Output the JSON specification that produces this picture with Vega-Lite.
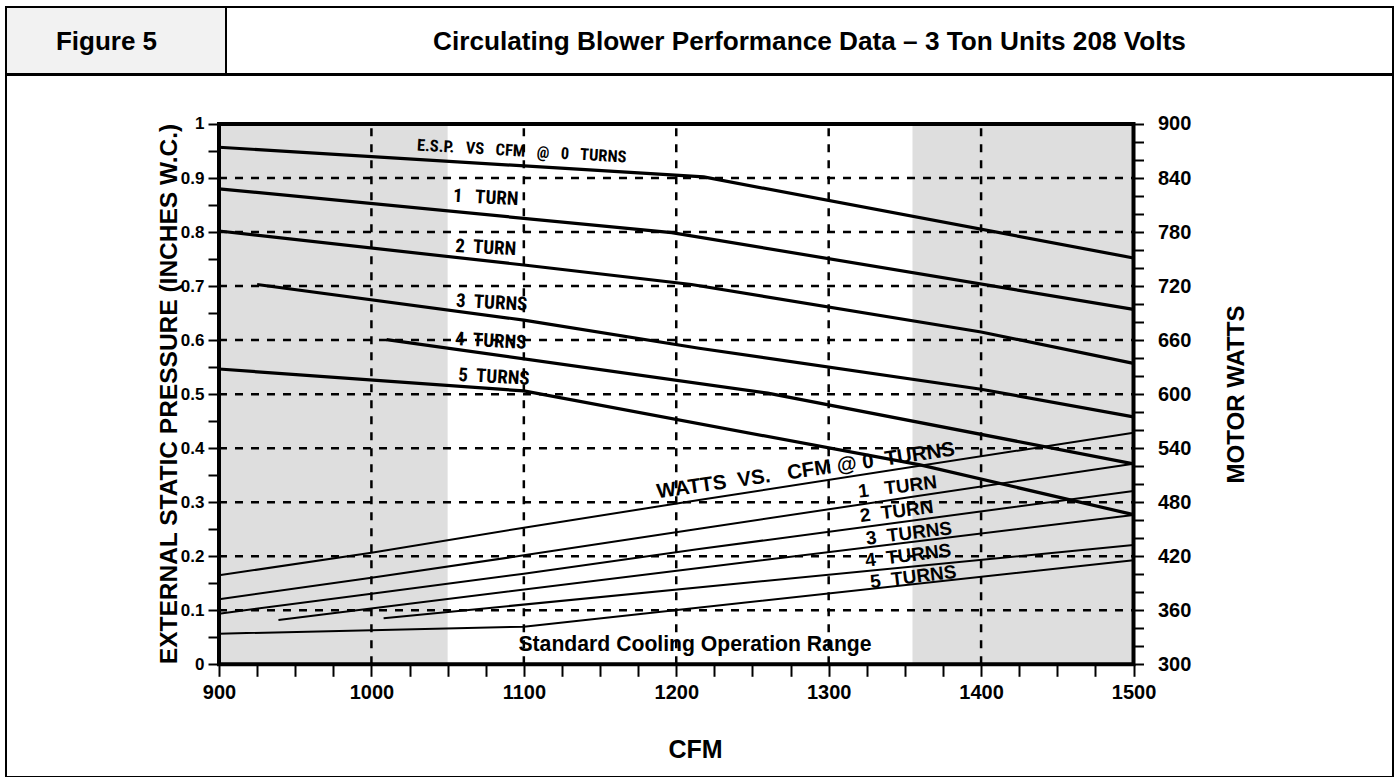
{
  "$schema": "https://vega.github.io/schema/vega-lite/v6.json",
  "padding": {"left": 5, "top": 6, "right": 0, "bottom": 0},
  "background": "white",
  "spacing": -2,
  "config": {
    "view": {"stroke": "black", "strokeWidth": 2},
    "font": "Liberation Sans"
  },
  "vconcat": [
    {
      "spacing": 0,
      "bounds": "flush",
      "hconcat": [
        {
          "width": 220,
          "height": 67,
          "view": {"fill": "#f2f2f2", "stroke": "black", "strokeWidth": 2},
          "data": {"values": [{"t": "Figure 5"}]},
          "mark": {"type": "text", "font": "Liberation Sans", "fontWeight": "bold", "fontSize": 26, "dx": -9.5, "dy": 1.5, "baseline": "middle", "align": "center", "color": "black"},
          "encoding": {"text": {"field": "t"}}
        },
        {
          "width": 1167,
          "height": 67,
          "view": {"stroke": "black", "strokeWidth": 2},
          "data": {"values": [{"t": "Circulating Blower Performance Data – 3 Ton Units 208 Volts"}]},
          "mark": {"type": "text", "font": "Liberation Sans", "fontWeight": "bold", "fontSize": 26.2, "dy": 1.5, "baseline": "middle", "align": "center", "color": "black"},
          "encoding": {"text": {"field": "t"}}
        }
      ]
    },
    {
      "width": 1387,
      "height": 702,
      "view": {"stroke": "black", "strokeWidth": 2},
      "resolve": {"scale": {"y": "independent"}, "axis": {"y": "independent", "x": "independent"}},
      "layer": [
        {
          "data": {"values": [{"a": 900, "b": 1050}, {"a": 1355, "b": 1500}]},
          "mark": {"type": "rect", "fill": "#dedede"},
          "encoding": {
            "x": {"field": "a", "type": "quantitative", "scale": {"domain": [760.25, 1670.25], "nice": false, "zero": false},
              "axis": {"orient": "bottom", "offset": -112.7, "domain": false, "grid": false, "zindex": 1,
                "values": [900,925,950,975,1000,1025,1050,1075,1100,1125,1150,1175,1200,1225,1250,1275,1300,1325,1350,1375,1400,1425,1450,1475,1500],
                "labelExpr": "datum.value % 100 == 0 ? datum.label : ''",
                "format": "d",
                "tickColor": "black", "tickWidth": 2, "tickSize": 12,
                "labelFont": "Liberation Sans", "labelFontWeight": "bold", "labelFontSize": 20, "labelColor": "black", "labelPadding": 6,
                "labelFlush": false, "labelOverlap": false, "labelBound": false,
                "title": "CFM", "titleFont": "Liberation Sans", "titleFontWeight": "bold", "titleFontSize": 25, "titleColor": "black",
                "titleX": 689, "titleY": 84.7, "titleAlign": "center", "titleBaseline": "middle", "titleAngle": 0}},
            "x2": {"field": "b"},
            "y": {"datum": 0, "type": "quantitative", "scale": {"domain": [-0.20859, 1.09069], "nice": false, "zero": false},
              "axis": {"orient": "left", "offset": -213, "domain": false, "grid": false, "zindex": 1,
                "values": [0,0.05,0.1,0.15,0.2,0.25,0.3,0.35,0.4,0.45,0.5,0.55,0.6,0.65,0.7,0.75,0.8,0.85,0.9,0.95,1],
                "labelExpr": "round(datum.value*100) % 10 == 0 ? format(datum.value, '~g') : ''",
                "tickColor": "black", "tickWidth": 2, "tickSize": 11,
                "labelFont": "Liberation Sans", "labelFontWeight": "bold", "labelFontSize": 17, "labelColor": "black", "labelPadding": 4,
                "labelFlush": false, "labelOverlap": false, "labelBound": false,
                "title": "EXTERNAL STATIC PRESSURE (INCHES W.C.)", "titleFont": "Liberation Sans", "titleFontWeight": "bold", "titleFontSize": 24.5, "titleColor": "black",
                "titleX": -50, "titleY": 318.5, "titleAngle": -90, "titleAlign": "center", "titleBaseline": "middle"}},
            "y2": {"datum": 1}
          }
        },
        {
          "data": {"values": [{"c": 1000}, {"c": 1100}, {"c": 1200}, {"c": 1300}, {"c": 1400}]},
          "mark": {"type": "rule", "color": "black", "strokeWidth": 2.5, "strokeDash": [8, 8]},
          "encoding": {
            "x": {"field": "c", "type": "quantitative", "scale": {"domain": [760.25, 1670.25], "nice": false, "zero": false}, "axis": null},
            "y": {"datum": 0, "type": "quantitative", "scale": {"domain": [-0.20859, 1.09069], "nice": false, "zero": false}, "axis": null},
            "y2": {"datum": 1}
          }
        },
        {
          "data": {"values": [{"e": 0.1}, {"e": 0.2}, {"e": 0.3}, {"e": 0.4}, {"e": 0.5}, {"e": 0.6}, {"e": 0.7}, {"e": 0.8}, {"e": 0.9}]},
          "mark": {"type": "rule", "color": "black", "strokeWidth": 2.5, "strokeDash": [8, 8]},
          "encoding": {
            "y": {"field": "e", "type": "quantitative", "scale": {"domain": [-0.20859, 1.09069], "nice": false, "zero": false}, "axis": null},
            "x": {"datum": 900, "type": "quantitative", "scale": {"domain": [760.25, 1670.25], "nice": false, "zero": false}, "axis": null},
            "x2": {"datum": 1500}
          }
        },
        {
          "data": {"values": [
            {"series": "0 turns", "cfm": 900, "esp": 0.957},
            {"series": "0 turns", "cfm": 1218, "esp": 0.902},
            {"series": "0 turns", "cfm": 1500, "esp": 0.752},
            {"series": "1 turn", "cfm": 900, "esp": 0.880},
            {"series": "1 turn", "cfm": 1197, "esp": 0.799},
            {"series": "1 turn", "cfm": 1500, "esp": 0.657},
            {"series": "2 turns", "cfm": 900, "esp": 0.802},
            {"series": "2 turns", "cfm": 1100, "esp": 0.739},
            {"series": "2 turns", "cfm": 1210, "esp": 0.703},
            {"series": "2 turns", "cfm": 1400, "esp": 0.615},
            {"series": "2 turns", "cfm": 1500, "esp": 0.557},
            {"series": "3 turns", "cfm": 925, "esp": 0.703},
            {"series": "3 turns", "cfm": 1100, "esp": 0.637},
            {"series": "3 turns", "cfm": 1215, "esp": 0.585},
            {"series": "3 turns", "cfm": 1400, "esp": 0.509},
            {"series": "3 turns", "cfm": 1500, "esp": 0.458},
            {"series": "4 turns", "cfm": 1010, "esp": 0.601},
            {"series": "4 turns", "cfm": 1260, "esp": 0.502},
            {"series": "4 turns", "cfm": 1500, "esp": 0.371},
            {"series": "5 turns", "cfm": 900, "esp": 0.5465},
            {"series": "5 turns", "cfm": 1100, "esp": 0.506},
            {"series": "5 turns", "cfm": 1360, "esp": 0.369},
            {"series": "5 turns", "cfm": 1500, "esp": 0.277}
          ]},
          "mark": {"type": "line", "color": "black", "strokeWidth": 3.2},
          "encoding": {
            "x": {"field": "cfm", "type": "quantitative", "scale": {"domain": [760.25, 1670.25], "nice": false, "zero": false}, "axis": null},
            "y": {"field": "esp", "type": "quantitative", "scale": {"domain": [-0.20859, 1.09069], "nice": false, "zero": false}, "axis": null},
            "detail": {"field": "series"}
          }
        },
        {
          "data": {"values": [{"label": "E.S.P.\u00a0\u00a0 VS\u00a0\u00a0 CFM\u00a0\u00a0 @\u00a0\u00a0 0\u00a0\u00a0 TURNS", "cfm": 1098.6, "esp": 0.9491}]},
          "mark": {"type": "text", "font": "Roboto Condensed, Liberation Sans Narrow, DejaVu Sans Condensed, Liberation Sans", "fontWeight": "bold", "fontSize": 16.5, "angle": 3.3, "align": "center", "baseline": "middle", "color": "black"},
          "encoding": {
            "x": {"field": "cfm", "type": "quantitative", "scale": {"domain": [760.25, 1670.25], "nice": false, "zero": false}, "axis": null},
            "y": {"field": "esp", "type": "quantitative", "scale": {"domain": [-0.20859, 1.09069], "nice": false, "zero": false}, "axis": null},
            "text": {"field": "label"}
          }
        },
        {
          "data": {"values": [
            {"label": "1\u00a0\u00a0 TURN", "cfm": 1075.0, "esp": 0.864},
            {"label": "2\u00a0 TURN", "cfm": 1075.0, "esp": 0.7714},
            {"label": "3\u00a0 TURNS", "cfm": 1078.9, "esp": 0.6693},
            {"label": "4\u00a0 TURNS", "cfm": 1078.3, "esp": 0.5984},
            {"label": "5\u00a0 TURNS", "cfm": 1080.4, "esp": 0.5321}
          ]},
          "mark": {"type": "text", "font": "Roboto Condensed, Liberation Sans Narrow, DejaVu Sans Condensed, Liberation Sans", "fontWeight": "bold", "fontSize": 19, "angle": 3, "align": "center", "baseline": "middle", "color": "black"},
          "encoding": {
            "x": {"field": "cfm", "type": "quantitative", "scale": {"domain": [760.25, 1670.25], "nice": false, "zero": false}, "axis": null},
            "y": {"field": "esp", "type": "quantitative", "scale": {"domain": [-0.20859, 1.09069], "nice": false, "zero": false}, "axis": null},
            "text": {"field": "label"}
          }
        },
        {
          "data": {"values": [{"label": "Standard Cooling Operation Range", "cfm": 1212.3, "esp": 0.0357}]},
          "mark": {"type": "text", "font": "Liberation Sans", "fontWeight": "bold", "fontSize": 21.2, "align": "center", "baseline": "middle", "color": "black"},
          "encoding": {
            "x": {"field": "cfm", "type": "quantitative", "scale": {"domain": [760.25, 1670.25], "nice": false, "zero": false}, "axis": null},
            "y": {"field": "esp", "type": "quantitative", "scale": {"domain": [-0.20859, 1.09069], "nice": false, "zero": false}, "axis": null},
            "text": {"field": "label"}
          }
        },
        {
          "data": {"values": [{"frame": "plot"}]},
          "mark": {"type": "rect", "fill": "white", "fillOpacity": 0, "stroke": "black", "strokeWidth": 4},
          "encoding": {
            "x": {"datum": 900, "type": "quantitative", "scale": {"domain": [760.25, 1670.25], "nice": false, "zero": false}, "axis": null},
            "x2": {"datum": 1500},
            "y": {"datum": 0, "type": "quantitative", "scale": {"domain": [-0.20859, 1.09069], "nice": false, "zero": false}, "axis": null},
            "y2": {"datum": 1}
          }
        },
        {
          "data": {"values": [
            {"series": "0 turns", "cfm": 900, "watts": 398.8},
            {"series": "0 turns", "cfm": 1000, "watts": 424.0},
            {"series": "0 turns", "cfm": 1100, "watts": 451.7},
            {"series": "0 turns", "cfm": 1215, "watts": 482.5},
            {"series": "0 turns", "cfm": 1500, "watts": 557.2},
            {"series": "1 turn", "cfm": 900, "watts": 372.2},
            {"series": "1 turn", "cfm": 1000, "watts": 396.2},
            {"series": "1 turn", "cfm": 1100, "watts": 421.0},
            {"series": "1 turn", "cfm": 1215, "watts": 450.6},
            {"series": "1 turn", "cfm": 1500, "watts": 522.8},
            {"series": "2 turns", "cfm": 900, "watts": 356.2},
            {"series": "2 turns", "cfm": 1000, "watts": 378.4},
            {"series": "2 turns", "cfm": 1100, "watts": 400.6},
            {"series": "2 turns", "cfm": 1215, "watts": 428.0},
            {"series": "2 turns", "cfm": 1500, "watts": 492.4},
            {"series": "3 turns", "cfm": 939, "watts": 349.2},
            {"series": "3 turns", "cfm": 1215, "watts": 407.0},
            {"series": "3 turns", "cfm": 1500, "watts": 465.8},
            {"series": "4 turns", "cfm": 1008, "watts": 351.1},
            {"series": "4 turns", "cfm": 1500, "watts": 432.5},
            {"series": "5 turns", "cfm": 900, "watts": 334.0},
            {"series": "5 turns", "cfm": 1100, "watts": 341.8},
            {"series": "5 turns", "cfm": 1500, "watts": 415.5}
          ]},
          "mark": {"type": "line", "color": "black", "strokeWidth": 2},
          "encoding": {
            "x": {"field": "cfm", "type": "quantitative", "scale": {"domain": [760.25, 1670.25], "nice": false, "zero": false}, "axis": null},
            "y": {"field": "watts", "type": "quantitative", "scale": {"domain": [174.846, 954.414], "nice": false, "zero": false},
              "axis": {"orient": "right", "offset": -259.5, "domain": false, "grid": false, "zindex": 1,
                "values": [300,320,340,360,380,400,420,440,460,480,500,520,540,560,580,600,620,640,660,680,700,720,740,760,780,800,820,840,860,880,900],
                "labelExpr": "(datum.value - 300) % 60 == 0 ? datum.label : ''",
                "format": "d",
                "tickColor": "black", "tickWidth": 2, "tickSize": 10,
                "labelFont": "Liberation Sans", "labelFontWeight": "bold", "labelFontSize": 20, "labelColor": "black", "labelPadding": 14,
                "labelFlush": false, "labelOverlap": false, "labelBound": false,
                "title": "MOTOR WATTS", "titleFont": "Liberation Sans", "titleFontWeight": "bold", "titleFontSize": 24, "titleColor": "black",
                "titleX": 102.5, "titleY": 319, "titleAngle": -90, "titleAlign": "center", "titleBaseline": "middle"}},
            "detail": {"field": "series"}
          }
        },
        {
          "data": {"values": [{"label": "WATTS\u00a0 VS.\u00a0\u00a0 CFM @ 0\u00a0 TURNS", "cfm": 1285.0, "watts": 514.8}]},
          "mark": {"type": "text", "font": "Liberation Sans", "fontWeight": "bold", "fontSize": 20.5, "angle": -8.2, "align": "center", "baseline": "middle", "color": "black"},
          "encoding": {
            "x": {"field": "cfm", "type": "quantitative", "scale": {"domain": [760.25, 1670.25], "nice": false, "zero": false}, "axis": null},
            "y": {"field": "watts", "type": "quantitative", "scale": {"domain": [174.846, 954.414], "nice": false, "zero": false}, "axis": null},
            "text": {"field": "label"}
          }
        },
        {
          "data": {"values": [
            {"label": "1\u00a0\u00a0 TURN", "cfm": 1345.2, "watts": 496.9},
            {"label": "2\u00a0 TURN", "cfm": 1344.6, "watts": 469.7},
            {"label": "3\u00a0 TURNS", "cfm": 1352.7, "watts": 445.3},
            {"label": "4\u00a0 TURNS", "cfm": 1352.2, "watts": 420.7},
            {"label": "5\u00a0 TURNS", "cfm": 1355.5, "watts": 396.9}
          ]},
          "mark": {"type": "text", "font": "Liberation Sans", "fontWeight": "bold", "fontSize": 19, "angle": -7, "align": "center", "baseline": "middle", "color": "black"},
          "encoding": {
            "x": {"field": "cfm", "type": "quantitative", "scale": {"domain": [760.25, 1670.25], "nice": false, "zero": false}, "axis": null},
            "y": {"field": "watts", "type": "quantitative", "scale": {"domain": [174.846, 954.414], "nice": false, "zero": false}, "axis": null},
            "text": {"field": "label"}
          }
        }
      ]
    }
  ]
}
